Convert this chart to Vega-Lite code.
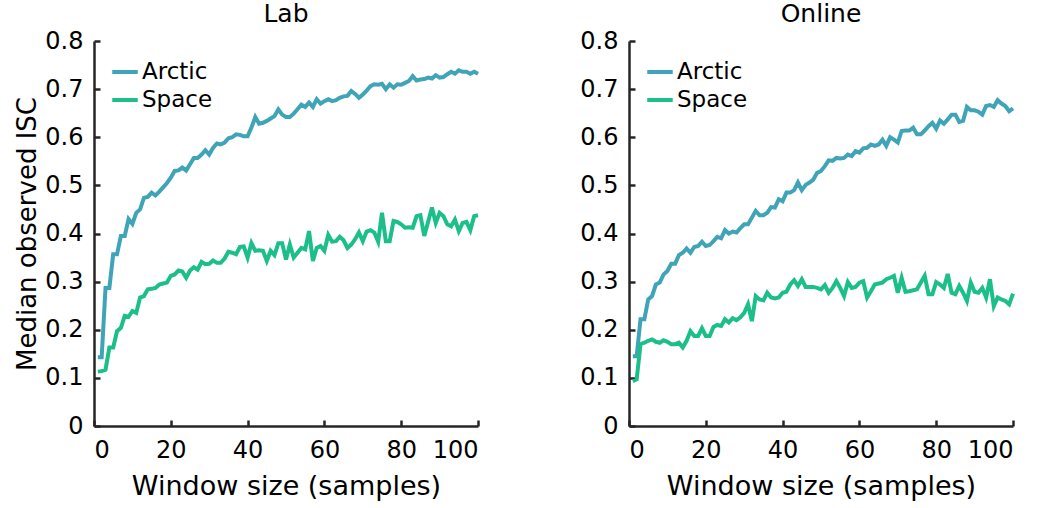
{
  "$schema": "https://vega.github.io/schema/vega-lite/v6.json",
  "padding": {"left": 14, "top": 2, "right": 5, "bottom": 5},
  "datasets": {
    "lab": [
      {"x":1,"Arctic":0.143,"Space":0.113},{"x":2,"Arctic":0.143,"Space":0.114},{"x":3,"Arctic":0.287,"Space":0.117},{"x":4,"Arctic":0.287,"Space":0.163},{"x":5,"Arctic":0.357,"Space":0.163},
      {"x":6,"Arctic":0.357,"Space":0.197},{"x":7,"Arctic":0.395,"Space":0.204},{"x":8,"Arctic":0.395,"Space":0.229},{"x":9,"Arctic":0.43,"Space":0.227},{"x":10,"Arctic":0.42,"Space":0.239},
      {"x":11,"Arctic":0.443,"Space":0.235},{"x":12,"Arctic":0.45,"Space":0.267},{"x":13,"Arctic":0.474,"Space":0.27},{"x":14,"Arctic":0.476,"Space":0.284},{"x":15,"Arctic":0.485,"Space":0.285},
      {"x":16,"Arctic":0.479,"Space":0.287},{"x":17,"Arctic":0.487,"Space":0.294},{"x":18,"Arctic":0.496,"Space":0.296},{"x":19,"Arctic":0.505,"Space":0.298},{"x":20,"Arctic":0.516,"Space":0.312},
      {"x":21,"Arctic":0.53,"Space":0.315},{"x":22,"Arctic":0.531,"Space":0.323},{"x":23,"Arctic":0.537,"Space":0.321},{"x":24,"Arctic":0.531,"Space":0.308},{"x":25,"Arctic":0.544,"Space":0.323},
      {"x":26,"Arctic":0.557,"Space":0.33},{"x":27,"Arctic":0.557,"Space":0.325},{"x":28,"Arctic":0.564,"Space":0.341},{"x":29,"Arctic":0.573,"Space":0.336},{"x":30,"Arctic":0.564,"Space":0.337},
      {"x":31,"Arctic":0.578,"Space":0.344},{"x":32,"Arctic":0.587,"Space":0.339},{"x":33,"Arctic":0.585,"Space":0.339},{"x":34,"Arctic":0.589,"Space":0.348},{"x":35,"Arctic":0.598,"Space":0.362},
      {"x":36,"Arctic":0.6,"Space":0.36},{"x":37,"Arctic":0.606,"Space":0.357},{"x":38,"Arctic":0.605,"Space":0.372},{"x":39,"Arctic":0.602,"Space":0.373},{"x":40,"Arctic":0.602,"Space":0.35},
      {"x":41,"Arctic":0.62,"Space":0.38},{"x":42,"Arctic":0.642,"Space":0.364},{"x":43,"Arctic":0.628,"Space":0.365},{"x":44,"Arctic":0.63,"Space":0.364},{"x":45,"Arctic":0.634,"Space":0.343},
      {"x":46,"Arctic":0.639,"Space":0.364},{"x":47,"Arctic":0.644,"Space":0.355},{"x":48,"Arctic":0.658,"Space":0.38},{"x":49,"Arctic":0.647,"Space":0.38},{"x":50,"Arctic":0.642,"Space":0.346},
      {"x":51,"Arctic":0.642,"Space":0.377},{"x":52,"Arctic":0.649,"Space":0.35},{"x":53,"Arctic":0.658,"Space":0.36},{"x":54,"Arctic":0.668,"Space":0.37},{"x":55,"Arctic":0.663,"Space":0.367},
      {"x":56,"Arctic":0.672,"Space":0.405},{"x":57,"Arctic":0.663,"Space":0.343},{"x":58,"Arctic":0.679,"Space":0.37},{"x":59,"Arctic":0.67,"Space":0.374},{"x":60,"Arctic":0.675,"Space":0.364},
      {"x":61,"Arctic":0.679,"Space":0.397},{"x":62,"Arctic":0.675,"Space":0.383},{"x":63,"Arctic":0.677,"Space":0.384},{"x":64,"Arctic":0.682,"Space":0.393},{"x":65,"Arctic":0.685,"Space":0.386},
      {"x":66,"Arctic":0.686,"Space":0.37},{"x":67,"Arctic":0.696,"Space":0.377},{"x":68,"Arctic":0.69,"Space":0.388},{"x":69,"Arctic":0.682,"Space":0.402},{"x":70,"Arctic":0.689,"Space":0.384},
      {"x":71,"Arctic":0.697,"Space":0.404},{"x":72,"Arctic":0.706,"Space":0.407},{"x":73,"Arctic":0.71,"Space":0.402},{"x":74,"Arctic":0.709,"Space":0.383},{"x":75,"Arctic":0.711,"Space":0.443},
      {"x":76,"Arctic":0.7,"Space":0.384},{"x":77,"Arctic":0.71,"Space":0.384},{"x":78,"Arctic":0.703,"Space":0.426},{"x":79,"Arctic":0.71,"Space":0.424},{"x":80,"Arctic":0.709,"Space":0.419},
      {"x":81,"Arctic":0.713,"Space":0.412},{"x":82,"Arctic":0.717,"Space":0.413},{"x":83,"Arctic":0.727,"Space":0.412},{"x":84,"Arctic":0.718,"Space":0.436},{"x":85,"Arctic":0.72,"Space":0.438},
      {"x":86,"Arctic":0.721,"Space":0.395},{"x":87,"Arctic":0.724,"Space":0.424},{"x":88,"Arctic":0.722,"Space":0.454},{"x":89,"Arctic":0.729,"Space":0.422},{"x":90,"Arctic":0.724,"Space":0.443},
      {"x":91,"Arctic":0.725,"Space":0.436},{"x":92,"Arctic":0.731,"Space":0.419},{"x":93,"Arctic":0.736,"Space":0.415},{"x":94,"Arctic":0.732,"Space":0.429},{"x":95,"Arctic":0.739,"Space":0.405},
      {"x":96,"Arctic":0.736,"Space":0.422},{"x":97,"Arctic":0.736,"Space":0.424},{"x":98,"Arctic":0.732,"Space":0.407},{"x":99,"Arctic":0.736,"Space":0.436},{"x":100,"Arctic":0.732,"Space":0.438}
    ],
    "online": [
      {"x":1,"Arctic":0.145,"Space":0.093},{"x":2,"Arctic":0.145,"Space":0.097},{"x":3,"Arctic":0.222,"Space":0.17},{"x":4,"Arctic":0.222,"Space":0.173},{"x":5,"Arctic":0.263,"Space":0.177},
      {"x":6,"Arctic":0.27,"Space":0.18},{"x":7,"Arctic":0.294,"Space":0.175},{"x":8,"Arctic":0.298,"Space":0.173},{"x":9,"Arctic":0.315,"Space":0.178},{"x":10,"Arctic":0.322,"Space":0.175},
      {"x":11,"Arctic":0.337,"Space":0.17},{"x":12,"Arctic":0.337,"Space":0.17},{"x":13,"Arctic":0.355,"Space":0.173},{"x":14,"Arctic":0.36,"Space":0.163},{"x":15,"Arctic":0.369,"Space":0.177},
      {"x":16,"Arctic":0.36,"Space":0.197},{"x":17,"Arctic":0.372,"Space":0.187},{"x":18,"Arctic":0.374,"Space":0.187},{"x":19,"Arctic":0.383,"Space":0.203},{"x":20,"Arctic":0.374,"Space":0.187},
      {"x":21,"Arctic":0.376,"Space":0.187},{"x":22,"Arctic":0.384,"Space":0.206},{"x":23,"Arctic":0.393,"Space":0.21},{"x":24,"Arctic":0.39,"Space":0.208},{"x":25,"Arctic":0.407,"Space":0.222},
      {"x":26,"Arctic":0.4,"Space":0.215},{"x":27,"Arctic":0.404,"Space":0.224},{"x":28,"Arctic":0.402,"Space":0.22},{"x":29,"Arctic":0.411,"Space":0.226},{"x":30,"Arctic":0.419,"Space":0.235},
      {"x":31,"Arctic":0.419,"Space":0.253},{"x":32,"Arctic":0.433,"Space":0.218},{"x":33,"Arctic":0.447,"Space":0.27},{"x":34,"Arctic":0.438,"Space":0.263},{"x":35,"Arctic":0.438,"Space":0.261},
      {"x":36,"Arctic":0.443,"Space":0.277},{"x":37,"Arctic":0.455,"Space":0.267},{"x":38,"Arctic":0.454,"Space":0.265},{"x":39,"Arctic":0.471,"Space":0.267},{"x":40,"Arctic":0.467,"Space":0.277},
      {"x":41,"Arctic":0.485,"Space":0.279},{"x":42,"Arctic":0.485,"Space":0.294},{"x":43,"Arctic":0.49,"Space":0.303},{"x":44,"Arctic":0.506,"Space":0.291},{"x":45,"Arctic":0.49,"Space":0.305},
      {"x":46,"Arctic":0.501,"Space":0.289},{"x":47,"Arctic":0.506,"Space":0.289},{"x":48,"Arctic":0.512,"Space":0.289},{"x":49,"Arctic":0.526,"Space":0.287},{"x":50,"Arctic":0.53,"Space":0.284},
      {"x":51,"Arctic":0.54,"Space":0.293},{"x":52,"Arctic":0.552,"Space":0.277},{"x":53,"Arctic":0.551,"Space":0.287},{"x":54,"Arctic":0.557,"Space":0.301},{"x":55,"Arctic":0.556,"Space":0.287},
      {"x":56,"Arctic":0.557,"Space":0.27},{"x":57,"Arctic":0.564,"Space":0.299},{"x":58,"Arctic":0.561,"Space":0.287},{"x":59,"Arctic":0.571,"Space":0.289},{"x":60,"Arctic":0.568,"Space":0.298},
      {"x":61,"Arctic":0.577,"Space":0.301},{"x":62,"Arctic":0.578,"Space":0.267},{"x":63,"Arctic":0.585,"Space":0.28},{"x":64,"Arctic":0.582,"Space":0.294},{"x":65,"Arctic":0.585,"Space":0.296},
      {"x":66,"Arctic":0.595,"Space":0.298},{"x":67,"Arctic":0.582,"Space":0.305},{"x":68,"Arctic":0.6,"Space":0.308},{"x":69,"Arctic":0.595,"Space":0.312},{"x":70,"Arctic":0.589,"Space":0.277},
      {"x":71,"Arctic":0.613,"Space":0.308},{"x":72,"Arctic":0.614,"Space":0.279},{"x":73,"Arctic":0.614,"Space":0.28},{"x":74,"Arctic":0.62,"Space":0.282},{"x":75,"Arctic":0.606,"Space":0.284},
      {"x":76,"Arctic":0.606,"Space":0.298},{"x":77,"Arctic":0.614,"Space":0.312},{"x":78,"Arctic":0.623,"Space":0.274},{"x":79,"Arctic":0.63,"Space":0.274},{"x":80,"Arctic":0.618,"Space":0.299},
      {"x":81,"Arctic":0.635,"Space":0.294},{"x":82,"Arctic":0.628,"Space":0.287},{"x":83,"Arctic":0.637,"Space":0.316},{"x":84,"Arctic":0.647,"Space":0.277},{"x":85,"Arctic":0.647,"Space":0.274},
      {"x":86,"Arctic":0.632,"Space":0.291},{"x":87,"Arctic":0.634,"Space":0.277},{"x":88,"Arctic":0.663,"Space":0.26},{"x":89,"Arctic":0.656,"Space":0.298},{"x":90,"Arctic":0.656,"Space":0.279},
      {"x":91,"Arctic":0.653,"Space":0.277},{"x":92,"Arctic":0.647,"Space":0.287},{"x":93,"Arctic":0.665,"Space":0.267},{"x":94,"Arctic":0.667,"Space":0.305},{"x":95,"Arctic":0.663,"Space":0.249},
      {"x":96,"Arctic":0.677,"Space":0.267},{"x":97,"Arctic":0.67,"Space":0.263},{"x":98,"Arctic":0.665,"Space":0.26},{"x":99,"Arctic":0.654,"Space":0.253},{"x":100,"Arctic":0.66,"Space":0.275}
    ]
  },
  "config": {
    "font": "DejaVu Sans",
    "view": {"stroke": null},
    "axis": {
      "grid": false,
      "domainColor": "#262626",
      "domainWidth": 2.5,
      "tickColor": "#262626",
      "tickWidth": 2.5,
      "tickSize": -6,
      "labelFontSize": 24,
      "labelColor": "#000000",
      "titleFontSize": 26,
      "titleFontWeight": "normal",
      "titleColor": "#000000"
    },
    "axisX": {"labelPadding": 18, "titlePadding": 11, "titleFontSize": 27},
    "axisY": {"labelPadding": 17, "titlePadding": 4},
    "title": {"fontSize": 25, "fontWeight": "normal", "color": "#000000", "offset": 2},
    "legend": {
      "orient": "top-left",
      "offset": 16,
      "title": null,
      "symbolType": "stroke",
      "symbolStrokeWidth": 4,
      "symbolSize": 650,
      "labelFontSize": 23,
      "labelColor": "#000000",
      "rowPadding": 1,
      "labelOffset": 2
    },
    "line": {"strokeWidth": 4}
  },
  "spacing": 93,
  "resolve": {"scale": {"color": "independent"}},
  "hconcat": [
    {
      "width": 384,
      "height": 385,
      "title": "Lab",
      "data": {"name": "lab"},
      "transform": [{"fold": ["Arctic", "Space"], "as": ["series", "isc"]}],
      "mark": {"type": "line"},
      "encoding": {
        "x": {"field": "x", "type": "quantitative", "scale": {"domain": [0, 100], "nice": false}, "axis": {"values": [0, 20, 40, 60, 80, 100], "title": "Window size (samples)"}},
        "y": {"field": "isc", "type": "quantitative", "scale": {"domain": [0, 0.8], "nice": false}, "axis": {"values": [0, 0.1, 0.2, 0.3, 0.4, 0.5, 0.6, 0.7, 0.8], "format": "~g", "title": "Median observed ISC"}},
        "color": {"field": "series", "type": "nominal", "scale": {"domain": ["Arctic", "Space"], "range": ["#40a4b8", "#1cbf8a"]}}
      }
    },
    {
      "width": 384,
      "height": 385,
      "title": "Online",
      "data": {"name": "online"},
      "transform": [{"fold": ["Arctic", "Space"], "as": ["series", "isc"]}],
      "mark": {"type": "line"},
      "encoding": {
        "x": {"field": "x", "type": "quantitative", "scale": {"domain": [0, 100], "nice": false}, "axis": {"values": [0, 20, 40, 60, 80, 100], "title": "Window size (samples)"}},
        "y": {"field": "isc", "type": "quantitative", "scale": {"domain": [0, 0.8], "nice": false}, "axis": {"values": [0, 0.1, 0.2, 0.3, 0.4, 0.5, 0.6, 0.7, 0.8], "format": "~g", "title": null}},
        "color": {"field": "series", "type": "nominal", "scale": {"domain": ["Arctic", "Space"], "range": ["#40a4b8", "#1cbf8a"]}}
      }
    }
  ]
}
